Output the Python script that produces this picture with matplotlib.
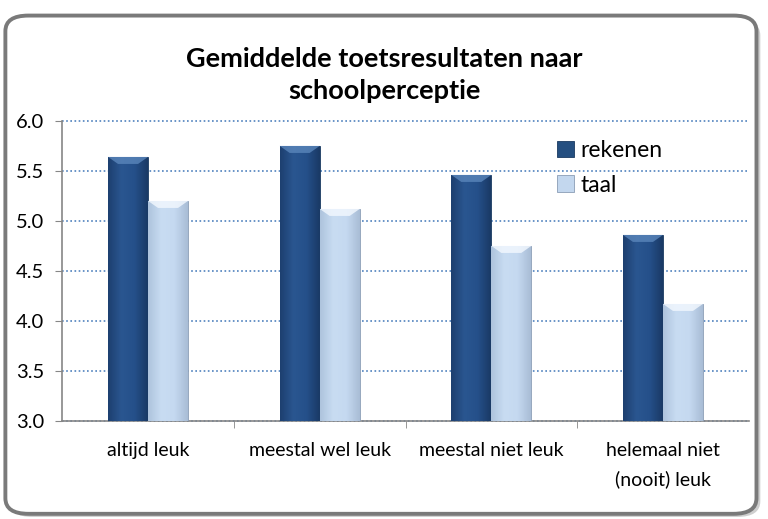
import numpy as np
import matplotlib
matplotlib.use("Agg")
import matplotlib.pyplot as plt
from matplotlib.patches import FancyBboxPatch, Polygon
from matplotlib.colors import LinearSegmentedColormap

# data
categories = ['altijd leuk', 'meestal wel leuk', 'meestal niet leuk', 'helemaal niet\n(nooit) leuk']
rekenen = [5.64, 5.75, 5.46, 4.86]
taal = [5.20, 5.12, 4.75, 4.17]
series_names = ['rekenen', 'taal']
title = 'Gemiddelde toetsresultaten naar\nschoolperceptie'

plt.rcParams['font.family'] = ['Lato', 'DejaVu Sans']

fig = plt.figure(figsize=(7.68, 5.19), dpi=100)

# rounded chart border with a little shadow
shadow = FancyBboxPatch((0.012, 0.004), 0.978, 0.958, boxstyle="round,pad=0,rounding_size=0.03",
                        transform=fig.transFigure, facecolor='#cfcfcf', edgecolor='none', zorder=0)
border = FancyBboxPatch((0.007, 0.010), 0.978, 0.960, boxstyle="round,pad=0,rounding_size=0.03",
                        transform=fig.transFigure, facecolor='white', edgecolor='#7a7a7a',
                        linewidth=2.8, zorder=1)
fig.patches.extend([shadow, border])

ax = fig.add_axes([0.081, 0.189, 0.894, 0.578])
ax.set_zorder(2)
ax.patch.set_alpha(0)

x = np.arange(len(categories))
w = 0.233
dark = '#254f80'
light = '#c3d7ee'
b1 = ax.bar(x - w / 2, rekenen, w, color=dark, edgecolor='#1a3a60', linewidth=0.6,
            label=series_names[0], zorder=3)
b2 = ax.bar(x + w / 2, taal, w, color=light, edgecolor='#8a9db5', linewidth=0.6,
            label=series_names[1], zorder=3)

# soft horizontal shading and bevelled tops, taken from each bar
cm_dark = LinearSegmentedColormap.from_list('d', ['#1d4070', '#2a5690', '#25508a', '#1a3a66'])
cm_light = LinearSegmentedColormap.from_list('l', ['#aec4dd', '#c8dcf2', '#c5d9f0', '#a9bdd6'])
for bars, cm, top_col in [(b1, cm_dark, '#5a86bb'), (b2, cm_light, '#f4f9ff')]:
    for p in bars:
        x0, y0 = p.get_x(), 3.0
        bw, h = p.get_width(), p.get_height()
        im = ax.imshow(np.linspace(0, 1, 50).reshape(1, -1), cmap=cm, aspect='auto',
                       extent=[x0, x0 + bw, y0, h], zorder=3.5)
        im.set_clip_path(p)
        bev = 0.07
        ax.add_patch(Polygon([[x0, h], [x0 + bw, h], [x0 + bw * 0.75, h - bev], [x0 + bw * 0.25, h - bev]],
                             closed=True, facecolor=top_col, edgecolor='none', alpha=0.8, zorder=4))

ax.set_xlim(-0.5, len(categories) - 0.5)
ax.set_ylim(3.0, 6.0)
yt = np.arange(3.0, 6.01, 0.5)
ax.set_yticks(yt)
ax.set_yticklabels([f'{v:.1f}' for v in yt], fontsize=14.5)
ax.set_xticks(x)
ax.set_xticklabels(categories, fontsize=14, linespacing=1.75)
ax.set_xticks(np.arange(0.5, len(categories) - 1, 1), minor=True)
ax.tick_params(axis='x', which='major', length=0, pad=15)
ax.tick_params(axis='x', which='minor', length=5, color='#868686')
ax.tick_params(axis='y', length=5, color='#868686', pad=8)

ax.grid(axis='y', linestyle=(0, (1, 1.5)), color='#4f81bd', linewidth=1.2, zorder=1)
for gl in ax.get_ygridlines():
    gl.set_clip_on(False)
for s in ['top', 'right']:
    ax.spines[s].set_visible(False)
ax.spines['left'].set_color('#868686')
ax.spines['bottom'].set_color('#868686')
ax.spines['left'].set_linewidth(1.2)
ax.spines['bottom'].set_linewidth(1.2)

leg = ax.legend(loc='upper left', bbox_to_anchor=(0.69, 1.005), frameon=False, fontsize=16.5,
                handlelength=0.75, handleheight=0.75, handletextpad=0.3, labelspacing=0.6)

fig.text(0.5, 0.855, title, ha='center', va='center', fontsize=19.5, fontweight='bold',
         linespacing=1.4, zorder=3)

fig.savefig('out.png', dpi=100)
